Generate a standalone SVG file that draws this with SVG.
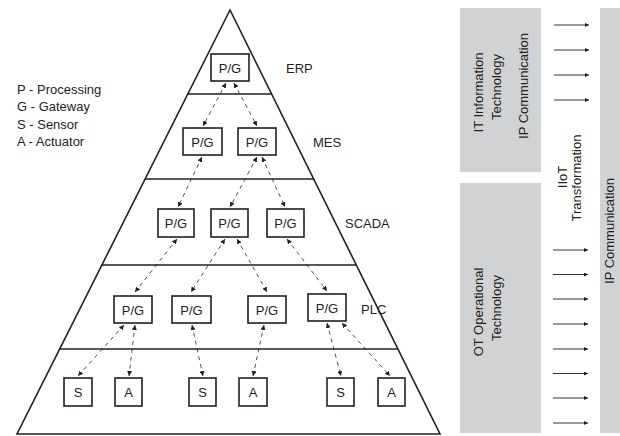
<svg xmlns="http://www.w3.org/2000/svg" width="620" height="436" viewBox="0 0 620 436">
<style>
  text { font-family: "Liberation Sans", Arial, sans-serif; fill: #231f20; }
  .lbl { font-size: 13px; }
  .node rect { fill: #ffffff; stroke: #231f20; stroke-width: 1.6; }
  .node text { font-size: 13px; text-anchor: middle; }
  .tri { fill: none; stroke: #231f20; stroke-width: 1.6; }
  .conn line { stroke: #231f20; stroke-width: 0.8; stroke-dasharray: 4 4; marker-start: url(#ah); marker-end: url(#ah); }
  .flow line { stroke: #231f20; stroke-width: 0.9; marker-end: url(#ah2); }
  .panel { fill: #d1d2d4; }
  .rot { font-size: 13px; text-anchor: middle; }
</style>
<defs>
  <marker id="ah" viewBox="0 0 6 6" refX="6" refY="3" markerWidth="5" markerHeight="5" markerUnits="userSpaceOnUse" orient="auto-start-reverse">
    <path d="M0,0 L6,3 L0,6 z" fill="#231f20"/>
  </marker>
  <marker id="ah2" viewBox="0 0 6 6" refX="6" refY="3" markerWidth="5" markerHeight="4" markerUnits="userSpaceOnUse" orient="auto">
    <path d="M0,0 L6,3 L0,6 z" fill="#231f20"/>
  </marker>
</defs>

<g id="pyramid">
  <polygon class="tri" points="230,10 17,434 440,434"/>
  <line class="tri" x1="187.8" y1="94" x2="271.6" y2="94"/>
  <line class="tri" x1="145.1" y1="179" x2="313.7" y2="179"/>
  <line class="tri" x1="101.9" y1="265" x2="356.3" y2="265"/>
  <line class="tri" x1="59.7" y1="349" x2="397.9" y2="349"/>
</g>

<g id="legend" class="lbl">
  <text x="17" y="93.5">P - Processing</text>
  <text x="17" y="111">G - Gateway</text>
  <text x="17" y="128.5">S - Sensor</text>
  <text x="17" y="146">A - Actuator</text>
</g>

<g id="level-labels" class="lbl">
  <text x="286" y="72.5">ERP</text>
  <text x="313" y="146.5">MES</text>
  <text x="345" y="228">SCADA</text>
  <text x="361" y="314">PLC</text>
</g>

<g id="connectors" class="conn">
  <line x1="226" y1="83" x2="203" y2="126"/>
  <line x1="234" y1="83" x2="257" y2="126"/>
  <line x1="202" y1="157" x2="178" y2="207"/>
  <line x1="257" y1="157" x2="230" y2="207"/>
  <line x1="262" y1="157" x2="285" y2="207"/>
  <line x1="177" y1="239" x2="135" y2="292"/>
  <line x1="225" y1="239" x2="191" y2="292"/>
  <line x1="237" y1="239" x2="267" y2="292"/>
  <line x1="287" y1="239" x2="327" y2="291"/>
  <line x1="124" y1="325" x2="78" y2="376"/>
  <line x1="135" y1="325" x2="129" y2="376"/>
  <line x1="192" y1="325" x2="203" y2="376"/>
  <line x1="264" y1="325" x2="253" y2="376"/>
  <line x1="327" y1="323" x2="341" y2="376"/>
  <line x1="342" y1="323" x2="390" y2="376"/>
</g>

<g id="erp-pg" class="node"><rect x="211" y="54" width="38" height="27"/><text x="230" y="72.5">P/G</text></g>
<g id="mes-pg1" class="node"><rect x="183" y="128" width="39" height="27"/><text x="202.5" y="146.5">P/G</text></g>
<g id="mes-pg2" class="node"><rect x="238" y="128" width="38" height="27"/><text x="257" y="146.5">P/G</text></g>
<g id="scada-pg1" class="node"><rect x="158" y="209" width="36" height="28"/><text x="176" y="228">P/G</text></g>
<g id="scada-pg2" class="node"><rect x="211" y="209" width="37" height="28"/><text x="229.5" y="228">P/G</text></g>
<g id="scada-pg3" class="node"><rect x="267" y="209" width="37" height="28"/><text x="285.5" y="228">P/G</text></g>
<g id="plc-pg1" class="node"><rect x="114" y="296" width="38" height="27"/><text x="133" y="314.5">P/G</text></g>
<g id="plc-pg2" class="node"><rect x="172" y="296" width="39" height="27"/><text x="191.5" y="314.5">P/G</text></g>
<g id="plc-pg3" class="node"><rect x="248" y="296" width="38" height="27"/><text x="267" y="314.5">P/G</text></g>
<g id="plc-pg4" class="node"><rect x="308" y="294" width="38" height="27"/><text x="327" y="312.5">P/G</text></g>
<g id="s1" class="node"><rect x="64" y="378" width="28" height="28"/><text x="78" y="397">S</text></g>
<g id="a1" class="node"><rect x="115" y="378" width="27" height="28"/><text x="128.5" y="397">A</text></g>
<g id="s2" class="node"><rect x="189" y="378" width="27" height="28"/><text x="202.5" y="397">S</text></g>
<g id="a2" class="node"><rect x="239" y="378" width="28" height="28"/><text x="253" y="397">A</text></g>
<g id="s3" class="node"><rect x="327" y="378" width="27" height="28"/><text x="340.5" y="397">S</text></g>
<g id="a3" class="node"><rect x="378" y="378" width="27" height="28"/><text x="391.5" y="397">A</text></g>

<g id="it-panel">
  <rect class="panel" x="460" y="8" width="81" height="164"/>
  <text class="rot" transform="translate(483,92.5) rotate(-90)">IT Information</text>
  <text class="rot" transform="translate(500.5,87) rotate(-90)">Technology</text>
  <text class="rot" transform="translate(528,86) rotate(-90)">IP Communication</text>
</g>

<g id="ot-panel">
  <rect class="panel" x="460" y="183" width="81" height="250"/>
  <text class="rot" transform="translate(483,312) rotate(-90)">OT Operational</text>
  <text class="rot" transform="translate(501,308) rotate(-90)">Technology</text>
</g>

<g id="iiot-label">
  <text class="rot" transform="translate(567,177) rotate(-90)">IIoT</text>
  <text class="rot" transform="translate(581,178) rotate(-90)">Transformation</text>
</g>

<g id="ip-strip">
  <rect class="panel" x="600" y="8" width="20" height="425"/>
  <text class="rot" transform="translate(613.5,231) rotate(-90)">IP Communication</text>
</g>

<g id="flow-arrows" class="flow">
  <line x1="554" y1="25" x2="589" y2="25"/>
  <line x1="554" y1="50" x2="589" y2="50"/>
  <line x1="554" y1="75" x2="589" y2="75"/>
  <line x1="554" y1="100" x2="589" y2="100"/>
  <line x1="553" y1="250" x2="588" y2="250"/>
  <line x1="553" y1="274.5" x2="588" y2="274.5"/>
  <line x1="553" y1="299" x2="588" y2="299"/>
  <line x1="553" y1="324" x2="588" y2="324"/>
  <line x1="553" y1="349" x2="588" y2="349"/>
  <line x1="553" y1="373.5" x2="588" y2="373.5"/>
  <line x1="553" y1="398" x2="588" y2="398"/>
  <line x1="553" y1="423" x2="588" y2="423"/>
</g>
</svg>
